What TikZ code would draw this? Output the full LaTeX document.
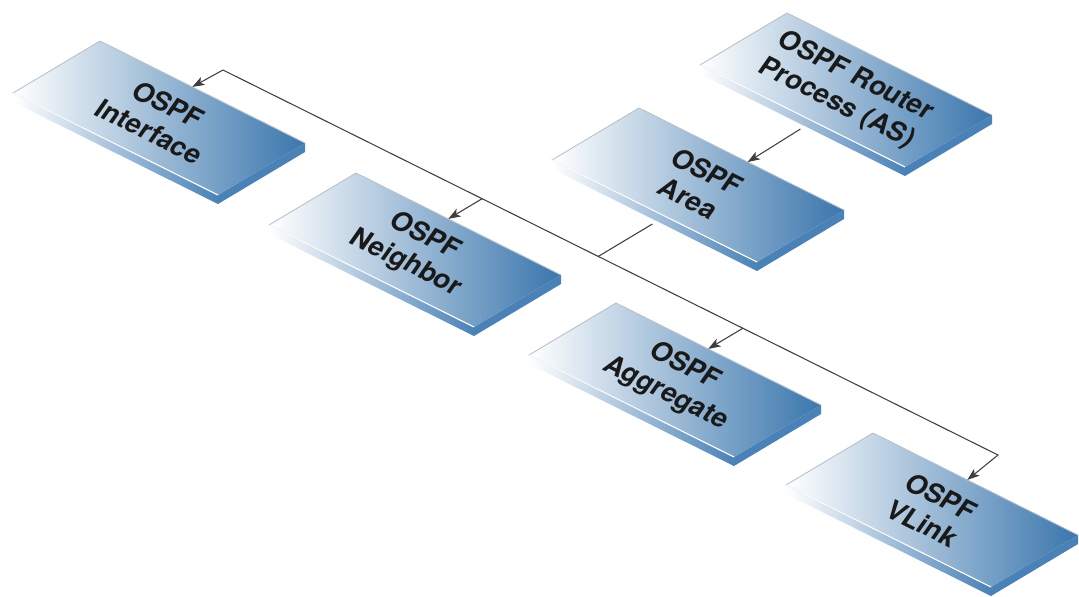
\documentclass[tikz,border=0pt]{standalone}
\usepackage{fontspec}
\setsansfont{TeX Gyre Heros}
\usepackage{tikz}
\usetikzlibrary{arrows.meta,calc}

\definecolor{slabtop}{HTML}{3A76AD}
\definecolor{slabside}{HTML}{4A82B7}
\definecolor{slabrim}{HTML}{B8C0C9}
\definecolor{wirecol}{HTML}{3E3E3E}

\begin{document}
\begin{tikzpicture}[x=0.02cm, y=-0.02cm,
    conn/.style={draw=wirecol, line width=0.6pt},
    head/.style={-{Stealth[length=7pt,width=5pt,inset=1.8pt]}},
    slabtext/.style={cm={0.896,-0.446,0.574,0.819,(0,0)}, align=center,
      font=\sffamily\bfseries\fontsize{15.5}{18.5}\selectfont, text=black!90}]
  \useasboundingbox (0,0) rectangle (1079,596);
  % slabs: name / left corner / where the arrow lands on the upper edge
  \foreach \n/\x/\y/\a in {router/700/65/0.45, intf/13/93/0.45, area/552/160/0.53,
                           nbr/269/225/0.45, aggr/529/355/0.45, vlink/786/485/0.46} {
    \coordinate (\n-l) at (\x,\y);
    \coordinate (\n-t) at ($(\n-l)+(87,-52)$);
    \coordinate (\n-r) at ($(\n-l)+(292,50)$);
    \coordinate (\n-b) at ($(\n-l)+(205,102)$);
    \coordinate (\n-c) at ($(\n-l)+(146,25)$);
    \coordinate (\n-in) at ($(\n-t)!\a!(\n-r)$);
    \coordinate (\n-up) at ($(\n-in)+(87,-52)$);
    \coordinate (\n-out) at ($(\n-l)!0.49!(\n-b)+(0,14)$);
    \coordinate (\n-dn) at ($(\n-out)+(-87,52)$);
    \fill[slabside] (\n-b) -- (\n-r) -- ++(0,9) -- ($(\n-b)+(0,9)$) -- cycle;
    \shade[left color=white, right color=slabside]
      (\n-l) -- (\n-b) -- ($(\n-b)+(0,9)$) -- ($(\n-l)+(0,9)$) -- cycle;
    \shade[left color=white, right color=slabtop]
      (\n-l) -- (\n-t) -- (\n-r) -- (\n-b) -- cycle;
    \draw[slabrim, line width=0.5pt] (\n-b) -- (\n-l) -- (\n-t) -- (\n-r);
    \draw[white, line width=0.6pt] (\n-l) -- (\n-b);
  }
  \node[slabtext] (router) at (router-c) {OSPF Router\\Process (AS)};
  \node[slabtext] (intf)   at (intf-c)   {OSPF\\Interface};
  \node[slabtext] (area)   at (area-c)   {OSPF\\Area};
  \node[slabtext] (nbr)    at (nbr-c)    {OSPF\\Neighbor};
  \node[slabtext] (aggr)   at (aggr-c)   {OSPF\\Aggregate};
  \node[slabtext] (vlink)  at (vlink-c)  {OSPF\\VLink};
  % connectors
  \coordinate (bus-w) at (223,70);
  \coordinate (bus-e) at (998,455);
  \coordinate (jn) at (intersection of bus-w--bus-e and area-out--area-dn);
  \coordinate (nbr-tap) at (intersection of bus-w--bus-e and nbr-in--nbr-up);
  \coordinate (aggr-tap) at (intersection of bus-w--bus-e and aggr-in--aggr-up);
  \draw[conn, head] (router-out) -- (area-in);
  \draw[conn] (area-out) -- (jn);
  \draw[conn, head] (bus-w) -- (intf-in);
  \draw[conn, head] (bus-w) -- (bus-e) -- (vlink-in);
  \draw[conn, head] (nbr-tap) -- (nbr-in);
  \draw[conn, head] (aggr-tap) -- (aggr-in);
\end{tikzpicture}
\end{document}
